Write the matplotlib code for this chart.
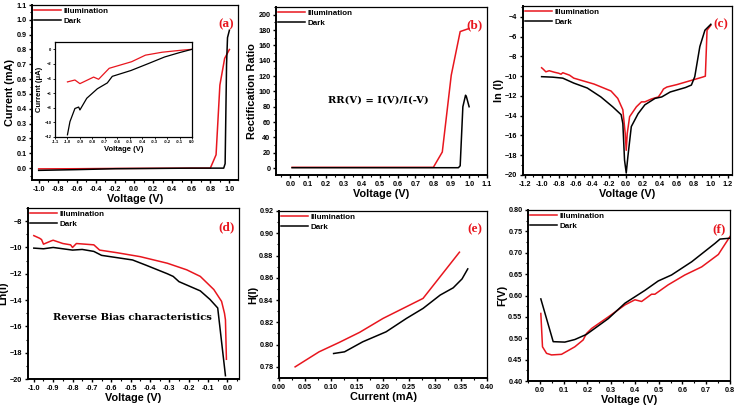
import matplotlib.pyplot as plt
from matplotlib.ticker import MultipleLocator, AutoMinorLocator, FuncFormatter

RED = '#e8161e'
plt.rcParams['font.family'] = 'Liberation Sans'
plt.rcParams['font.weight'] = 'bold'

# (a) I-V
a_v_ill = [-1.0, -0.6, -0.2, 0.2, 0.6, 0.8, 0.86, 0.9, 0.95, 1.0]
a_i_ill = [-0.005, -0.004, -0.002, -0.001, 0.0, 0.0, 0.09, 0.56, 0.74, 0.8]
a_v_dark = [-1.0, -0.6, -0.2, 0.2, 0.6, 0.94, 0.955, 0.97, 0.98, 1.0]
a_i_dark = [-0.015, -0.01, -0.004, -0.002, 0.0, 0.0, 0.03, 0.7, 0.88, 0.93]

# inset (reverse bias, uA)
in_v_ill = [-1.0, -0.94, -0.9, -0.79, -0.75, -0.665, -0.485, -0.374, -0.24, -0.1, 0.0]
in_i_ill = [-4.46, -4.2, -4.7, -3.8, -4.1, -2.6, -1.7, -0.8, -0.4, -0.15, 0.0]
in_v_dark = [-1.0, -0.98, -0.94, -0.91, -0.9, -0.845, -0.76, -0.68, -0.64, -0.49, -0.35, -0.22, -0.1, 0.0]
in_i_dark = [-11.7, -9.9, -8.1, -7.9, -8.3, -6.7, -5.4, -4.6, -3.7, -2.9, -1.95, -1.05, -0.45, 0.0]

# (b) rectification ratio
b_v_ill = [0.01, 0.2, 0.4, 0.6, 0.8, 0.85, 0.9, 0.95, 1.0]
b_r_ill = [1.0, 1.0, 1.0, 1.0, 1.0, 21, 121, 178, 182]
b_v_dark = [0.01, 0.2, 0.4, 0.6, 0.8, 0.94, 0.95, 0.965, 0.98, 0.985, 1.0]
b_r_dark = [0.5, 0.5, 0.5, 0.5, 0.5, 0.5, 3, 80, 95, 93, 80]

# (c) ln(I) vs V
c_v_ill = [-1.0, -0.98, -0.95, -0.91, -0.85, -0.8, -0.77, -0.75, -0.67, -0.62, -0.5, -0.38, -0.18, -0.1, -0.04,
           -0.012, 0.0, 0.012, 0.04, 0.12, 0.18, 0.22, 0.3, 0.38, 0.42, 0.44, 0.48, 0.6, 0.7, 0.9, 0.935, 0.955, 1.0]
c_l_ill = [-9.15, -9.3, -9.56, -9.45, -9.6, -9.7, -9.8, -9.65, -9.9, -10.2, -10.5, -10.8, -11.5, -12.25, -13.4,
           -15.8, -17.5, -15.8, -14.1, -13.1, -12.6, -12.6, -12.3, -12.1, -11.6, -11.3, -11.1, -10.85, -10.6, -10.1,
           -10.0, -5.35, -4.85]
c_v_dark = [-1.0, -0.87, -0.75, -0.62, -0.46, -0.3, -0.16, -0.06, -0.04, -0.02, 0.0, 0.02, 0.06, 0.14, 0.22,
            0.34, 0.42, 0.52, 0.7, 0.77, 0.81, 0.87, 0.93, 1.0]
c_l_dark = [-10.05, -10.1, -10.2, -10.7, -11.2, -12.1, -13.1, -13.9, -14.8, -18.5, -19.8, -18.1, -15.1, -13.8,
            -12.9, -12.25, -12.1, -11.6, -11.15, -10.9, -10.05, -7.0, -5.35, -4.75]

# (d) reverse bias
d_v_ill = [-1.0, -0.97, -0.96, -0.95, -0.91, -0.9, -0.85, -0.81, -0.8, -0.78, -0.69, -0.66, -0.57, -0.45,
           -0.31, -0.21, -0.14, -0.07, -0.03, -0.015, -0.01, -0.005]
d_l_ill = [-9.1, -9.3, -9.4, -9.75, -9.5, -9.45, -9.7, -9.8, -10.0, -9.7, -9.8, -10.2, -10.4, -10.7,
           -11.2, -11.7, -12.2, -13.2, -14.1, -15.0, -15.5, -18.5]
d_v_dark = [-1.0, -0.95, -0.9, -0.8, -0.75, -0.69, -0.65, -0.49, -0.42, -0.31, -0.28, -0.25, -0.14, -0.09,
            -0.05, -0.01]
d_l_dark = [-10.05, -10.1, -10.0, -10.2, -10.15, -10.3, -10.6, -10.95, -11.35, -12.0, -12.2, -12.6, -13.3,
            -13.95, -14.6, -19.75]

# (e) H(I)
e_i_ill = [0.031, 0.077, 0.116, 0.155, 0.2, 0.277, 0.347]
e_h_ill = [0.780, 0.7935, 0.802, 0.811, 0.8235, 0.8415, 0.883]
e_i_dark = [0.105, 0.126, 0.161, 0.206, 0.245, 0.277, 0.31, 0.335, 0.352, 0.363]
e_h_dark = [0.792, 0.7935, 0.8025, 0.8115, 0.8235, 0.8325, 0.8445, 0.851, 0.859, 0.868]

# (f) F(V)
f_v_ill = [0.004, 0.011, 0.028, 0.049, 0.091, 0.147, 0.182, 0.196, 0.218, 0.288, 0.358, 0.4, 0.428,
           0.47, 0.484, 0.54, 0.61, 0.681, 0.751, 0.8]
f_f_ill = [0.558, 0.48, 0.4647, 0.461, 0.4624, 0.48, 0.496, 0.511, 0.523, 0.55, 0.578, 0.59, 0.586,
           0.603, 0.603, 0.625, 0.648, 0.667, 0.696, 0.738]
f_v_dark = [0.004, 0.056, 0.105, 0.147, 0.196, 0.288, 0.358, 0.442, 0.498, 0.554, 0.639, 0.737, 0.758, 0.8]
f_f_dark = [0.592, 0.492, 0.491, 0.497, 0.509, 0.546, 0.582, 0.612, 0.634, 0.648, 0.679, 0.722, 0.732, 0.734]

W, H = 737, 407
fig = plt.figure(figsize=(W / 100, H / 100), dpi=100)


def ax_px(l, t, r, b):
    return fig.add_axes([l / W, 1 - b / H, (r - l) / W, (b - t) / H])


def style(ax, xlabel, ylabel, xlim, ylim, xmaj, ymaj, tag, fs=5.2):
    ax.set_xlim(*xlim)
    ax.set_ylim(*ylim)
    ax.xaxis.set_major_locator(MultipleLocator(xmaj))
    ax.yaxis.set_major_locator(MultipleLocator(ymaj))
    ax.xaxis.set_minor_locator(AutoMinorLocator(2))
    ax.yaxis.set_minor_locator(AutoMinorLocator(2))
    ax.tick_params(which='major', direction='out', length=2.5, width=1, labelsize=fs, pad=1.5)
    ax.tick_params(which='minor', direction='out', length=1.5, width=0.8)
    for s in ['left', 'bottom']:
        ax.spines[s].set_linewidth(1.4)
    for s in ['top', 'right']:
        ax.spines[s].set_linewidth(0.9)
    ax.set_xlabel(xlabel, fontsize=7.8, fontweight='bold', labelpad=1)
    ax.set_ylabel(ylabel, fontsize=7.8, fontweight='bold', labelpad=1)
    ax.text(0.98, 0.925, tag, transform=ax.transAxes, ha='right', va='top', color=RED,
            fontsize=9.5, fontweight='bold', family='Liberation Serif')
    ax.legend(loc='upper left', frameon=False, fontsize=5.8, borderaxespad=0.25, borderpad=0,
              handlelength=3.3, handletextpad=0.3, labelspacing=0.35)


def fmt(d):
    return lambda x, p: f'{x:.{d}f}'


# (a)
ax = ax_px(32, 5, 238, 180)
ax.plot(a_v_ill, a_i_ill, color=RED, lw=1.1, label='Illumination')
ax.plot(a_v_dark, a_i_dark, color='black', lw=1.1, label='Dark')
style(ax, 'Voltage (V)', 'Current (mA)', (-1.07, 1.09), (-0.08, 1.1), 0.2, 0.1, '(a)')
ax.xaxis.set_major_formatter(FuncFormatter(fmt(1)))
ax.yaxis.set_major_formatter(FuncFormatter(fmt(1)))

ins = ax_px(55, 42, 192, 137)
ins.plot(in_v_ill, in_i_ill, color=RED, lw=0.9)
ins.plot(in_v_dark, in_i_dark, color='black', lw=0.9)
ins.set_xlim(-1.1, 0.0)
ins.set_ylim(-12, 1)
ins.xaxis.set_major_locator(MultipleLocator(0.1))
ins.yaxis.set_major_locator(MultipleLocator(2))
ins.xaxis.set_major_formatter(FuncFormatter(fmt(1)))
ins.tick_params(direction='out', length=1.5, width=0.6, labelsize=3, pad=1)
for s in ins.spines.values():
    s.set_linewidth(0.9)
ins.set_xlabel('Voltage (V)', fontsize=5.5, fontweight='bold', labelpad=1)
ins.set_ylabel('Current (\u03bcA)', fontsize=5.5, fontweight='bold', labelpad=1)

# (b)
ax = ax_px(276, 7, 487, 175)
ax.plot(b_v_ill, b_r_ill, color=RED, lw=1.1, label='Illumination')
ax.plot(b_v_dark, b_r_dark, color='black', lw=1.1, label='Dark')
style(ax, 'Voltage (V)', 'Rectification Ratio', (-0.08, 1.1), (-9, 210), 0.1, 20, '(b)')
ax.xaxis.set_major_formatter(FuncFormatter(fmt(1)))
ax.text(0.485, 0.445, 'RR(V) = I(V)/I(-V)', transform=ax.transAxes, ha='center', va='center',
        fontsize=7.2, fontweight='bold', family='DejaVu Serif')

# (c)
ax = ax_px(523, 6, 732, 175)
ax.plot(c_v_ill, c_l_ill, color=RED, lw=1.1, label='Illumination')
ax.plot(c_v_dark, c_l_dark, color='black', lw=1.1, label='Dark')
style(ax, 'Voltage (V)', 'ln (I)', (-1.22, 1.25), (-20, -2.9), 0.2, 2, '(c)')
ax.xaxis.set_major_formatter(FuncFormatter(fmt(1)))

# (d)
ax = ax_px(28, 208, 239, 379)
ax.plot(d_v_ill, d_l_ill, color=RED, lw=1.1, label='Illumination')
ax.plot(d_v_dark, d_l_dark, color='black', lw=1.1, label='Dark')
style(ax, 'Voltage (V)', 'Ln(I)', (-1.03, 0.06), (-20, -7), 0.1, 2, '(d)')
ax.xaxis.set_major_formatter(FuncFormatter(fmt(1)))
ax.text(0.495, 0.36, 'Reverse Bias characteristics', transform=ax.transAxes, ha='center', va='center',
        fontsize=7.2, fontweight='bold', family='DejaVu Serif')

# (e)
ax = ax_px(279, 211, 487, 378)
ax.plot(e_i_ill, e_h_ill, color=RED, lw=1.1, label='Illumination')
ax.plot(e_i_dark, e_h_dark, color='black', lw=1.1, label='Dark')
style(ax, 'Current (mA)', 'H(I)', (0.0, 0.40), (0.77, 0.92), 0.05, 0.02, '(e)')
ax.xaxis.set_major_formatter(FuncFormatter(fmt(2)))
ax.yaxis.set_major_formatter(FuncFormatter(fmt(2)))

# (f)
ax = ax_px(528, 210, 730, 381)
ax.plot(f_v_ill, f_f_ill, color=RED, lw=1.1, label='Illumination')
ax.plot(f_v_dark, f_f_dark, color='black', lw=1.1, label='Dark')
style(ax, 'Voltage (V)', 'F(V)', (-0.05, 0.8), (0.40, 0.80), 0.1, 0.05, '(f)')
ax.xaxis.set_major_formatter(FuncFormatter(fmt(1)))
ax.yaxis.set_major_formatter(FuncFormatter(fmt(2)))

fig.savefig('out.png', dpi=100)
